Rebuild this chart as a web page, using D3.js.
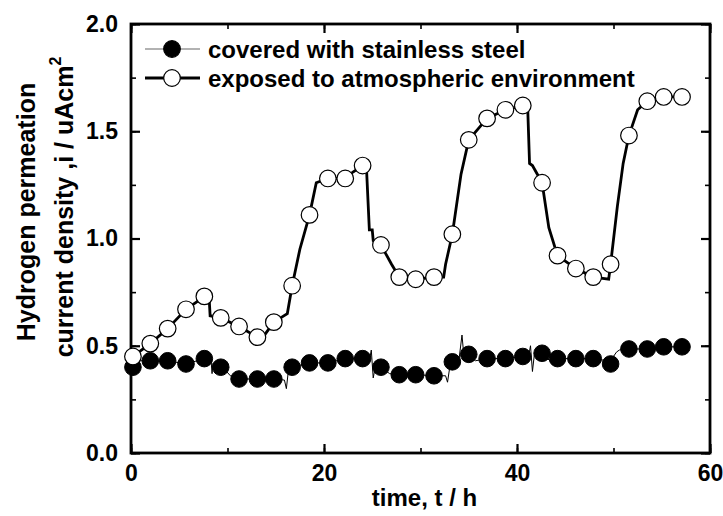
<!DOCTYPE html>
<html lang="en">
<head>
<meta charset="UTF-8">
<title>hydrogen permeation</title>
<script src="https://cdn.jsdelivr.net/npm/d3@7/dist/d3.min.js"></script>
<style>
  body { margin: 0; background: #fff; }
  text { font-family: "Liberation Sans", Arial, sans-serif; font-weight: bold; fill: #000; }
</style>
</head>
<body>
<svg width="723" height="516" id="main"></svg>
<script>
// open circles: exposed to atmospheric environment (markers)
let exposedT = [0.2, 2.0, 3.8, 5.7, 7.6, 9.3, 11.2, 13.1, 14.8, 16.7, 18.5, 20.4, 22.2, 24.0, 25.9, 27.8, 29.5, 31.4,
    33.3, 35.0, 36.9, 38.8, 40.6, 42.6, 44.2, 46.1, 47.9, 49.7, 51.6, 53.5, 55.2, 57.1];
let exposedV = [0.45, 0.51, 0.58, 0.67, 0.73, 0.63, 0.59, 0.54, 0.61, 0.78, 1.11, 1.28, 1.28, 1.34, 0.97, 0.82, 0.81, 0.82,
    1.02, 1.46, 1.56, 1.60, 1.62, 1.26, 0.92, 0.86, 0.82, 0.88, 1.48, 1.64, 1.66, 1.66];
// the measured curve between markers
let exposedLineT = [0, 0.2, 2.0, 3.8, 5.7, 7.0, 7.6, 8.1, 8.2, 9.3, 11.2, 13.1, 13.6, 14.0, 14.8, 15.5, 16.2, 16.7,
    17.5, 18.5, 19.2, 20.4, 22.2, 23.0, 24.0, 24.4, 24.7, 25.0, 25.1, 25.9, 27.0, 27.8, 29.5, 31.4, 32.4, 32.6, 33.3,
    34.2, 35.0, 36.9, 38.8, 40.6, 41.1, 41.3, 41.6, 42.6, 43.3, 44.2, 46.1, 47.9, 49.5, 49.7, 50.4, 51.0, 51.6, 52.5,
    53.5, 55.2, 57.1, 57.8];
let exposedLineV = [0.43, 0.45, 0.51, 0.58, 0.67, 0.71, 0.73, 0.72, 0.64, 0.63, 0.59, 0.54, 0.53, 0.56, 0.61, 0.63, 0.65, 0.78,
    0.95, 1.11, 1.26, 1.28, 1.28, 1.31, 1.34, 1.33, 1.04, 1.04, 0.99, 0.97, 0.88, 0.82, 0.81, 0.82, 0.82, 0.88, 1.02,
    1.30, 1.46, 1.56, 1.60, 1.62, 1.62, 1.35, 1.34, 1.26, 1.05, 0.92, 0.86, 0.82, 0.81, 0.88, 1.15, 1.35, 1.48, 1.60,
    1.64, 1.66, 1.66, 1.66];

// filled circles: covered with stainless steel
let coveredT = exposedT;
let coveredV = [0.40, 0.43, 0.43, 0.415, 0.44, 0.40, 0.345, 0.345, 0.345, 0.40, 0.42, 0.42, 0.44, 0.44, 0.40, 0.365, 0.365, 0.36,
    0.425, 0.46, 0.44, 0.44, 0.45, 0.465, 0.44, 0.44, 0.44, 0.415, 0.485, 0.485, 0.495, 0.495];
let coveredLineT = [0, 0.2, 1.0, 2.0, 3.8, 5.7, 7.6, 8.3, 8.4, 8.5, 9.5, 10.3, 11.2, 13.1, 14.8, 15.9, 16.1, 16.3, 16.7,
    18.5, 20.4, 22.2, 24.0, 24.7, 24.9, 25.1, 25.4, 25.9, 26.8, 27.8, 29.5, 31.4, 32.6, 32.8, 33.0, 33.3, 34.0, 34.3,
    34.5, 35.0, 35.7, 36.9, 38.8, 40.6, 41.2, 41.4, 41.6, 41.8, 42.6, 43.4, 44.2, 46.1, 47.9, 49.4, 49.7, 50.0, 50.3,
    50.6, 51.6, 53.5, 55.2, 57.1, 57.8];
let coveredLineV = [0.38, 0.40, 0.43, 0.43, 0.43, 0.415, 0.44, 0.43, 0.37, 0.42, 0.40, 0.36, 0.345, 0.345, 0.345, 0.34, 0.30, 0.38, 0.40,
    0.42, 0.42, 0.44, 0.44, 0.43, 0.48, 0.35, 0.42, 0.40, 0.37, 0.365, 0.365, 0.36, 0.36, 0.33, 0.39, 0.425, 0.44, 0.55,
    0.45, 0.46, 0.43, 0.44, 0.44, 0.45, 0.45, 0.50, 0.38, 0.46, 0.465, 0.43, 0.44, 0.44, 0.44, 0.43, 0.415, 0.45, 0.47,
    0.48, 0.485, 0.485, 0.495, 0.495, 0.49];

let xTicks = [0, 20, 40, 60];
let yTicks = [0.0, 0.5, 1.0, 1.5, 2.0];
let legendLabels = ["covered with stainless steel", "exposed to atmospheric environment"];

let margin = {top: 24, right: 13, bottom: 63, left: 131};
let width = 723, height = 516;
let svg = d3.select('#main');

let x = d3.scaleLinear().domain([0, 60]).range([margin.left, width - margin.right]);
let y = d3.scaleLinear().domain([0, 2]).range([height - margin.bottom, margin.top]);

let xMinor = d3.range(0, 61, 10), yMinor = d3.range(0, 2.01, 0.25);

// minor ticks on all four sides (pointing inward)
let minorAxis = (axis, vals) => g => g
    .call(axis.tickValues(vals).tickSize(-5).tickFormat(""))
    .call(g => g.select(".domain").remove())
    .call(g => g.selectAll(".tick line").attr("stroke-width", 1.6));
svg.append("g").attr("transform", `translate(0,${y(0)})`).call(minorAxis(d3.axisBottom(x), xMinor));
svg.append("g").attr("transform", `translate(0,${y(2)})`).call(minorAxis(d3.axisTop(x), xMinor));
svg.append("g").attr("transform", `translate(${x(0)},0)`).call(minorAxis(d3.axisLeft(y), yMinor));
svg.append("g").attr("transform", `translate(${x(60)},0)`).call(minorAxis(d3.axisRight(y), yMinor));

// major ticks, labels on bottom and left
svg.append("g").attr("transform", `translate(0,${y(0)})`)
    .call(d3.axisBottom(x).tickValues(xTicks).tickSize(-9).tickPadding(12).tickFormat(d3.format("d")))
    .call(g => g.select(".domain").remove())
    .call(g => g.selectAll(".tick line").attr("stroke-width", 2.2))
    .call(g => g.selectAll(".tick text").attr("font-size", 23));
svg.append("g").attr("transform", `translate(0,${y(2)})`)
    .call(d3.axisTop(x).tickValues(xTicks).tickSize(-9).tickFormat(""))
    .call(g => g.select(".domain").remove())
    .call(g => g.selectAll(".tick line").attr("stroke-width", 2.2));
svg.append("g").attr("transform", `translate(${x(0)},0)`)
    .call(d3.axisLeft(y).tickValues(yTicks).tickSize(-9).tickPadding(13).tickFormat(d3.format(".1f")))
    .call(g => g.select(".domain").remove())
    .call(g => g.selectAll(".tick line").attr("stroke-width", 2.2))
    .call(g => g.selectAll(".tick text").attr("font-size", 23));
svg.append("g").attr("transform", `translate(${x(60)},0)`)
    .call(d3.axisRight(y).tickValues(yTicks).tickSize(-9).tickFormat(""))
    .call(g => g.select(".domain").remove())
    .call(g => g.selectAll(".tick line").attr("stroke-width", 2.2));

// frame
svg.append("rect")
    .attr("x", x(0)).attr("y", y(2))
    .attr("width", x(60) - x(0)).attr("height", y(0) - y(2))
    .attr("fill", "none").attr("stroke", "#000").attr("stroke-width", 2.8);

// lines
let line = d3.line().x(d => x(d[0])).y(d => y(d[1]));
svg.append("path")
    .datum(d3.zip(coveredLineT, coveredLineV))
    .attr("d", line).attr("fill", "none").attr("stroke", "#000").attr("stroke-width", 1);
svg.append("path")
    .datum(d3.zip(exposedLineT, exposedLineV))
    .attr("d", line).attr("fill", "none").attr("stroke", "#000").attr("stroke-width", 2.8);

// markers
svg.append("g").selectAll("circle")
    .data(d3.zip(coveredT, coveredV)).join("circle")
    .attr("cx", d => x(d[0])).attr("cy", d => y(d[1])).attr("r", 8.3)
    .attr("fill", "#000").attr("stroke", "#000").attr("stroke-width", 1);
svg.append("g").selectAll("circle")
    .data(d3.zip(exposedT, exposedV)).join("circle")
    .attr("cx", d => x(d[0])).attr("cy", d => y(d[1])).attr("r", 8.3)
    .attr("fill", "#fff").attr("stroke", "#000").attr("stroke-width", 1.2);

// legend
let legend = svg.append("g");
legendLabels.forEach((label, i) => {
    let ly = 49 + i * 29;
    legend.append("line").attr("x1", 145).attr("x2", 200).attr("y1", ly).attr("y2", ly)
        .attr("stroke", i === 0 ? "#666" : "#000").attr("stroke-width", i === 0 ? 1.2 : 2.8);
    legend.append("circle").attr("cx", 172).attr("cy", ly).attr("r", 8.3)
        .attr("fill", i === 0 ? "#000" : "#fff").attr("stroke", "#000").attr("stroke-width", 1.2);
    legend.append("text").attr("x", 208).attr("y", ly + 8.5)
        .attr("font-size", 24).text(label);
});

// axis titles
svg.append("text").attr("x", (x(0) + x(60)) / 2 + 4).attr("y", 506)
    .attr("text-anchor", "middle").attr("font-size", 24).text("time, t / h");
svg.append("text")
    .attr("transform", `translate(35,212) rotate(-90)`)
    .attr("text-anchor", "middle").attr("font-size", 25).text("Hydrogen permeation");
let yt2 = svg.append("text")
    .attr("transform", `translate(73,207) rotate(-90)`)
    .attr("text-anchor", "middle").attr("font-size", 25);
yt2.append("tspan").text("current density ,i / uAcm");
yt2.append("tspan").attr("dy", -12).attr("font-size", 16).text("2");
</script>
</body>
</html>
